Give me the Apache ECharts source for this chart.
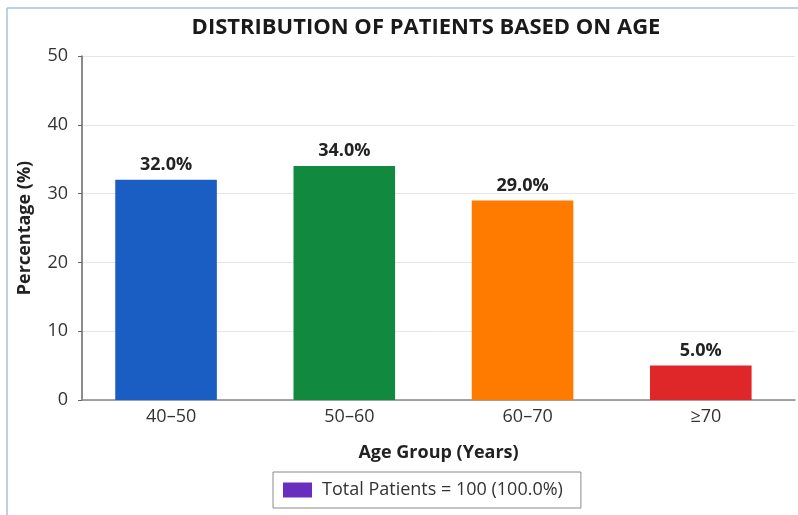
<!DOCTYPE html>
<html>
<head>
<meta charset="utf-8">
<script src="https://cdn.jsdelivr.net/npm/echarts@6/dist/echarts.min.js"></script>
<style>
html,body{margin:0;padding:0;background:#fff;}
#c{width:798px;height:515px;}
</style>
</head>
<body>
<div id="c"></div>
<script>
const categories = ['40\u201350', '50\u201360', '60\u201370', '\u226570'];
const values = [32.0, 34.0, 29.0, 5.0];
const barColors = ['#1a5ec4', '#118a3f', '#ff7b00', '#df2628'];
const yTicks = [0, 10, 20, 30, 40, 50];
const legendLabel = 'Total Patients = 100 (100.0%)';
const legendColor = '#6a2ebf';
const FONT = '"Open Sans", "Noto Sans", sans-serif';

const chart = echarts.init(document.getElementById('c'), null, {renderer: 'canvas'});
chart.setOption({
  backgroundColor: '#fff',
  animation: false,
  textStyle: {fontFamily: FONT},
  graphic: [{
    type: 'line', silent: true, z: -1,
    shape: {x1: 7, y1: 8, x2: 798, y2: 8},
    style: {stroke: '#a9c0d8', lineWidth: 1.5}
  }, {
    type: 'line', silent: true, z: -1,
    shape: {x1: 7, y1: 8, x2: 7, y2: 515},
    style: {stroke: '#a9c0d8', lineWidth: 1.5}
  }],
  title: {
    text: 'DISTRIBUTION OF PATIENTS BASED ON AGE',
    left: 421, top: 12, textAlign: 'center',
    textStyle: {fontFamily: FONT, fontSize: 22, fontWeight: 'bold', color: '#1a1a1a'}
  },
  legend: {
    data: [legendLabel],
    left: 273, top: 472,
    padding: [9, 18, 9, 10],
    borderColor: '#8a8a8a', borderWidth: 1,
    itemWidth: 29, itemHeight: 15, itemGap: 10,
    icon: 'rect',
    textStyle: {fontFamily: FONT, fontSize: 18, color: '#333', padding: [0, 0, 0, 5]}
  },
  grid: {left: 82, right: 3, top: 56, bottom: 115, containLabel: false},
  xAxis: {
    type: 'category',
    data: categories,
    name: 'Age Group (Years)',
    nameLocation: 'middle',
    nameGap: 44,
    nameTextStyle: {fontFamily: FONT, fontSize: 18, fontWeight: 'bold', color: '#222'},
    axisLine: {show: true, lineStyle: {color: '#888', width: 1.5}},
    axisTick: {show: false},
    axisLabel: {fontFamily: FONT, fontSize: 18, color: '#333', margin: 8}
  },
  yAxis: {
    type: 'value',
    min: 0, max: 50, interval: 10,
    name: 'Percentage (%)',
    nameLocation: 'middle',
    nameGap: 48,
    nameTextStyle: {fontFamily: FONT, fontSize: 18, fontWeight: 'bold', color: '#222'},
    axisLine: {show: true, lineStyle: {color: '#666', width: 1.5}},
    axisTick: {show: true, length: 4, lineStyle: {color: '#666'}},
    axisLabel: {fontFamily: FONT, fontSize: 18, color: '#333', margin: 14,
      formatter: v => yTicks.includes(v) ? String(v) : ''},
    splitLine: {show: true, lineStyle: {color: '#e6e6e6', width: 1}}
  },
  series: [{
    type: 'bar',
    name: 'Age Distribution',
    data: values.map((v, i) => ({value: v, itemStyle: {color: barColors[i]}})),
    barWidth: '57%',
    label: {
      show: true, position: 'top', distance: 6,
      formatter: p => p.value.toFixed(1) + '%',
      fontFamily: FONT, fontSize: 18, fontWeight: 'bold', color: '#222'
    }
  }, {
    type: 'bar',
    name: legendLabel,
    data: [],
    itemStyle: {color: legendColor}
  }]
});
</script>
</body>
</html>
